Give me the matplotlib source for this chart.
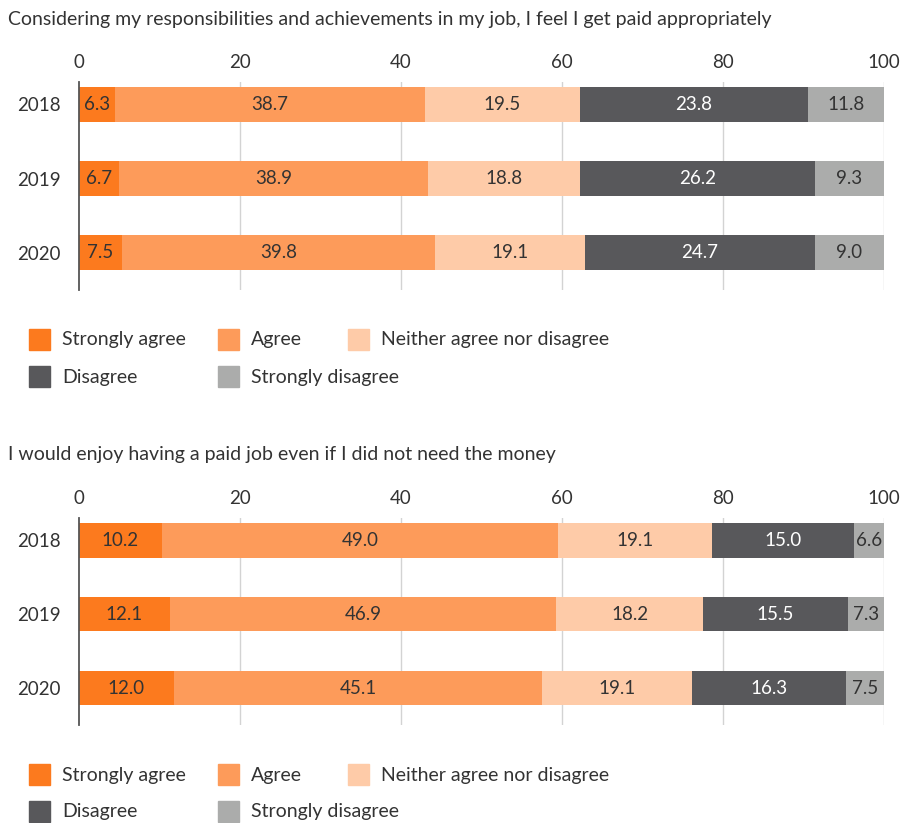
import matplotlib
matplotlib.use("Agg")
from matplotlib import pyplot as plt
from matplotlib.patches import Rectangle

plt.rcParams['font.family'] = ['Lato', 'DejaVu Sans']

years = ["2018", "2019", "2020"]
categories = ["Strongly agree", "Agree", "Neither agree nor disagree", "Disagree", "Strongly disagree"]
colors = ["#FC7A1E", "#FD9B5A", "#FECBA8", "#58585B", "#ABACAB"]
text_colors = ["#333333", "#333333", "#333333", "#FFFFFF", "#333333"]

title_top = "Considering my responsibilities and achievements in my job, I feel I get paid appropriately"
title_bottom = "I would enjoy having a paid job even if I did not need the money"

# rows = years, columns = categories; the printed percentages
top_values = [
    [6.3, 38.7, 19.5, 23.8, 11.8],
    [6.7, 38.9, 18.8, 26.2, 9.3],
    [7.5, 39.8, 19.1, 24.7, 9.0],
]
bottom_values = [
    [10.2, 49.0, 19.1, 15.0, 6.6],
    [12.1, 46.9, 18.2, 15.5, 7.3],
    [12.0, 45.1, 19.1, 16.3, 7.5],
]
# segment lengths as drawn in the original (they don't all match the printed numbers)
top_lengths = [
    [4.5, 38.5, 19.2, 28.4, 9.4],
    [5.0, 38.4, 18.8, 29.2, 8.6],
    [5.3, 38.9, 18.7, 28.5, 8.6],
]
bottom_lengths = [
    [10.3, 49.2, 19.1, 17.7, 3.7],
    [11.3, 48.0, 18.2, 18.0, 4.5],
    [11.8, 45.7, 18.6, 19.2, 4.7],
]
xticks = [0, 20, 40, 60, 80, 100]

W, H = 908, 823
fig = plt.figure(figsize=(W / 100, H / 100), dpi=100)
txt = "#333333"


def px(x, y):
    return x / W, 1 - y / H


def draw_block(values, lengths, top_px, bottom_px, title, title_y):
    ax = fig.add_axes([79 / W, 1 - bottom_px / H, 805 / W, (bottom_px - top_px) / H])
    for i, (row, lens) in enumerate(zip(values, lengths)):
        left = 0
        for j, (v, w) in enumerate(zip(row, lens)):
            ax.barh(i, w, left=left, height=0.47, color=colors[j], zorder=2)
            ax.text(left + w / 2, i, f"{v:.1f}", ha="center", va="center",
                    fontsize=13.5, color=text_colors[j], zorder=3)
            left += w
    ax.set_xlim(0, 100)
    ax.set_ylim(2.5, -0.3)
    ax.set_yticks(range(len(years)))
    ax.set_yticklabels(years)
    ax.set_xticks(xticks)
    ax.xaxis.tick_top()
    ax.tick_params(axis="both", length=0, labelsize=13.5, colors=txt)
    ax.tick_params(axis="x", pad=8)
    ax.tick_params(axis="y", pad=13)
    for s in ["top", "right", "bottom"]:
        ax.spines[s].set_visible(False)
    ax.spines["left"].set_color("#555555")
    ax.spines["left"].set_linewidth(1.3)
    ax.spines["left"].set_zorder(4)
    for t in xticks[1:]:
        ax.axvline(t, color="#D3D3D3", linewidth=1, zorder=1)
    x, y = px(8, title_y)
    fig.text(x, y, title, ha="left", va="center", fontsize=14, color=txt)

    # legend laid out as in the original (flowing rows)
    row1 = bottom_px + 50
    row2 = row1 + 37
    slots = [(29, row1), (218, row1), (348, row1), (29, row2), (218, row2)]
    for (sx, sy), lab, c in zip(slots, categories, colors):
        x0, y0 = px(sx, sy + 10)
        fig.add_artist(Rectangle((x0, y0), 21 / W, 21 / H, color=c, transform=fig.transFigure))
        tx, ty = px(sx + 33, sy)
        fig.text(tx, ty, lab, ha="left", va="center", fontsize=14, color=txt)
    return ax


draw_block(top_values, top_lengths, 82, 290, title_top, 20)
draw_block(bottom_values, bottom_lengths, 518, 725, title_bottom, 455)

fig.savefig("out.png", dpi=100)
